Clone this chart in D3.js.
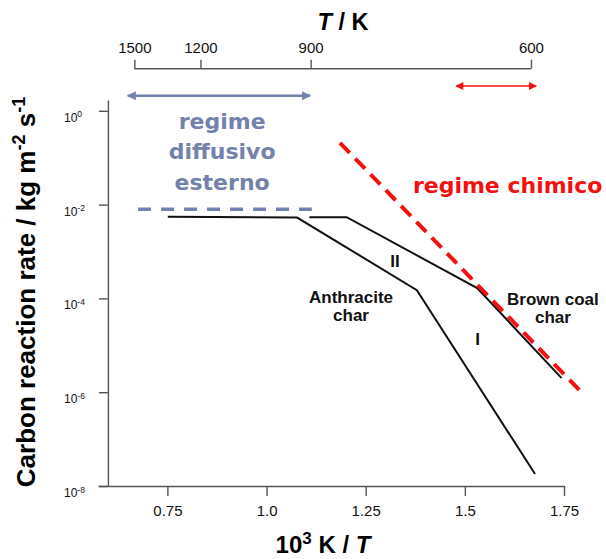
<!DOCTYPE html>
<html>
<head>
<meta charset="utf-8">
<script src="https://cdn.jsdelivr.net/npm/d3@7"></script>
<style>
  html, body { margin: 0; padding: 0; background: #fff; }
  svg { display: block; }
  .axis text { font-family: "Liberation Sans", Arial, sans-serif; fill: #111; }
</style>
</head>
<body>
<svg id="chart" width="606" height="559"></svg>
<script>
// Axis ticks
const invTTicks = [0.75, 1.0, 1.25, 1.5, 1.75];
const invTTickLabels = ["0.75", "1.0", "1.25", "1.5", "1.75"];
const tempTicks = [1500, 1200, 900, 600];
const rateTicks = [1, 1e-2, 1e-4, 1e-6, 1e-8];
const rateTickExponents = ["0", "-2", "-4", "-6", "-8"];

// Arrhenius curves (x: 1000/T, y: rate in kg m^-2 s^-1)
const anthraciteInvT = [0.751, 1.077, 1.379, 1.677];
const anthraciteRate = [5.5e-3, 5.3e-3, 1.5e-4, 1.8e-8];
const brownCoalInvT = [1.108, 1.202, 1.531, 1.744];
const brownCoalRate = [5.4e-3, 5.4e-3, 1.66e-4, 2.0e-6];

// Regime boundaries
const diffusionInvT = [0.676, 1.114];
const diffusionRate = [8.0e-3, 8.0e-3];
const chemicalInvT = [1.185, 1.795];
const chemicalRate = [0.208, 9.8e-7];

// Temperature spans of the two regimes (1000/T)
const diffusionSpan = [0.65, 1.11];
const chemicalSpan = [1.478, 1.68];

const svg = d3.select("#chart");
const blue = "#7381ad";
const red = "#f50f0f";
const axisColor = "#555";

const x = d3.scaleLinear().domain([0.575, 1.75]).range([98, 564]);
const y = d3.scaleLog().domain([1e-8, 1.7]).range([486, 100]);
const xAxisY = y(1e-8);
const yAxisX = x(0.6);
const topAxisY = 68.7;

// ---- bottom axis
const gx = svg.append("g").attr("class", "axis")
  .attr("transform", `translate(0,${xAxisY})`)
  .call(d3.axisBottom(x).tickValues(invTTicks)
    .tickFormat((d, i) => invTTickLabels[i])
    .tickSize(10).tickSizeOuter(0).tickPadding(9));
gx.selectAll("text").attr("font-size", 15);

// ---- left axis
const gy = svg.append("g").attr("class", "axis")
  .attr("transform", `translate(${yAxisX},0)`)
  .call(d3.axisLeft(y).tickValues(rateTicks).tickFormat("")
    .tickSize(9).tickSizeOuter(0));
const yl = svg.append("g").attr("class", "axis");
rateTicks.forEach((v, i) => {
  const t = yl.append("text")
    .attr("x", 64).attr("y", y(v) + 11)
    .attr("font-size", 12).attr("text-anchor", "start");
  t.append("tspan").text("10");
  t.append("tspan").attr("dy", -4.5).attr("font-size", 8.5).text(rateTickExponents[i]);
});

// ---- top (temperature) axis
const gt = svg.append("g").attr("class", "axis")
  .attr("transform", `translate(0,${topAxisY})`)
  .call(d3.axisTop(x).tickValues(tempTicks.map(T => 1000 / T))
    .tickFormat((d, i) => String(tempTicks[i]))
    .tickSize(9).tickSizeOuter(0).tickPadding(7));
gt.select(".domain").remove();
gt.append("line")
  .attr("x1", x(1000 / tempTicks[0])).attr("x2", x(1000 / tempTicks[tempTicks.length - 1]))
  .attr("y1", 0).attr("y2", 0);
gt.selectAll("text").attr("font-size", 15);

svg.selectAll(".axis path, .axis line")
  .attr("stroke", axisColor).attr("stroke-width", 1.4);

// ---- titles
svg.append("text")
  .attr("x", 343).attr("y", 29.5)
  .attr("text-anchor", "middle")
  .attr("font-family", "Liberation Sans, Arial, sans-serif")
  .attr("font-weight", "bold").attr("font-size", 23.5)
  .call(t => {
    t.append("tspan").attr("font-style", "italic").text("T");
    t.append("tspan").text(" / K");
  });

svg.append("text")
  .attr("x", 323).attr("y", 553)
  .attr("text-anchor", "middle")
  .attr("font-family", "Liberation Sans, Arial, sans-serif")
  .attr("font-weight", "bold").attr("font-size", 24)
  .call(t => {
    t.append("tspan").text("10");
    t.append("tspan").attr("dy", -9).attr("font-size", 17).text("3");
    t.append("tspan").attr("dy", 9).text(" K / ");
    t.append("tspan").attr("font-style", "italic").text("T");
  });

svg.append("text")
  .attr("transform", "translate(35,292) rotate(-90)")
  .attr("text-anchor", "middle")
  .attr("font-family", "Liberation Sans, Arial, sans-serif")
  .attr("font-weight", "bold").attr("font-size", 26)
  .call(t => {
    t.append("tspan").text("Carbon reaction rate / kg m");
    t.append("tspan").attr("dy", -10).attr("font-size", 18).text("-2");
    t.append("tspan").attr("dy", 10).text(" s");
    t.append("tspan").attr("dy", -10).attr("font-size", 18).text("-1");
  });

// ---- regime arrows
const defs = svg.append("defs");
function arrowHead(id, color, w, h) {
  defs.append("marker")
    .attr("id", id).attr("viewBox", "0 0 10 10")
    .attr("refX", 9).attr("refY", 5)
    .attr("markerUnits", "userSpaceOnUse")
    .attr("markerWidth", w).attr("markerHeight", h)
    .attr("orient", "auto-start-reverse")
    .append("path").attr("d", "M0,0L10,5L0,10Z").attr("fill", color);
}
arrowHead("ahBlue", blue, 12, 9);
arrowHead("ahRed", red, 11, 8);

svg.append("line")
  .attr("x1", x(diffusionSpan[0])).attr("x2", x(diffusionSpan[1]))
  .attr("y1", 95.7).attr("y2", 95.7)
  .attr("stroke", blue).attr("stroke-width", 2.5)
  .attr("marker-start", "url(#ahBlue)").attr("marker-end", "url(#ahBlue)");
svg.append("line")
  .attr("x1", x(chemicalSpan[0])).attr("x2", x(chemicalSpan[1]))
  .attr("y1", 86).attr("y2", 86)
  .attr("stroke", red).attr("stroke-width", 1.6)
  .attr("marker-start", "url(#ahRed)").attr("marker-end", "url(#ahRed)");

// ---- curves
const line = d3.line().x(d => x(d[0])).y(d => y(d[1]));
const zip = (a, b) => a.map((v, i) => [v, b[i]]);

svg.append("path").datum(zip(diffusionInvT, diffusionRate))
  .attr("d", line).attr("fill", "none")
  .attr("stroke", blue).attr("stroke-width", 3.5)
  .attr("stroke-dasharray", "13,10");

svg.append("path").datum(zip(anthraciteInvT, anthraciteRate))
  .attr("d", line).attr("fill", "none")
  .attr("stroke", "#111").attr("stroke-width", 2);
svg.append("path").datum(zip(brownCoalInvT, brownCoalRate))
  .attr("d", line).attr("fill", "none")
  .attr("stroke", "#111").attr("stroke-width", 2);

svg.append("path").datum(zip(chemicalInvT, chemicalRate))
  .attr("d", line).attr("fill", "none")
  .attr("stroke", red).attr("stroke-width", 4)
  .attr("stroke-dasharray", "14,8");

// ---- annotations (anchors in data units)
const helv = "Liberation Sans, Arial, sans-serif";
const verd = "DejaVu Sans, Verdana, sans-serif";
function label(lines, invT, logRate, opts) {
  lines.forEach((s, i) => {
    svg.append("text")
      .attr("x", x(invT))
      .attr("y", y(Math.pow(10, logRate)) + i * (opts.lh || 0))
      .attr("text-anchor", opts.anchor || "middle")
      .attr("font-family", opts.family)
      .attr("font-weight", "bold")
      .attr("font-size", opts.size)
      .attr("fill", opts.fill || "#111")
      .text(s);
  });
}
label(["Anthracite", "char"], 1.213, -4.092, { family: helv, size: 17, lh: 18 });
label(["Brown coal", "char"], 1.722, -4.138, { family: helv, size: 17, lh: 18 });
label(["II"], 1.324, -3.322, { family: helv, size: 17 });
label(["I"], 1.532, -4.99, { family: helv, size: 17 });
label(["regime chimico"], 1.369, -1.751, { family: verd, size: 22, fill: red, anchor: "start" });
label(["regime", "diffusivo", "esterno"], 0.888, -0.387, { family: verd, size: 22, fill: blue, lh: 30.5 });
</script>
</body>
</html>
